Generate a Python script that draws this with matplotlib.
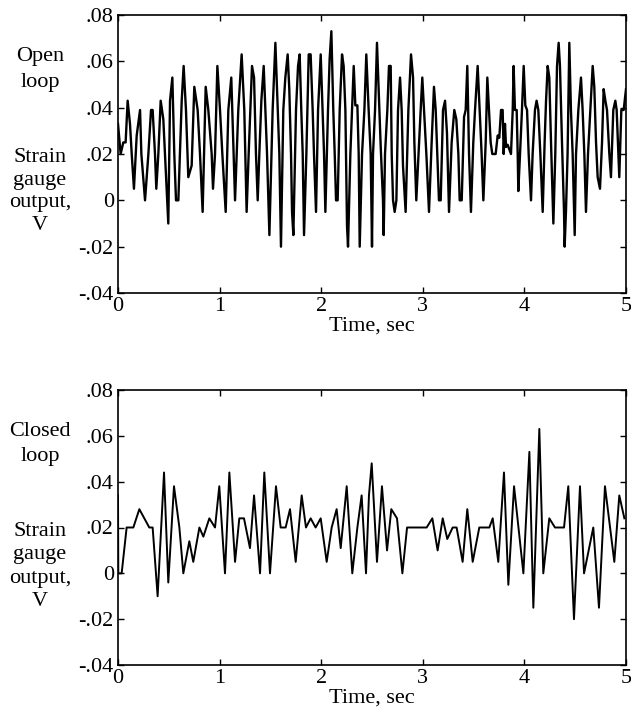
import numpy as np
import matplotlib
matplotlib.use("Agg")
import matplotlib.pyplot as plt
from matplotlib.ticker import FixedLocator, FixedFormatter

plt.rcParams['font.family'] = ['Liberation Serif', 'DejaVu Serif']

# open loop strain gauge output (sec, V)
t_open = [0.0, 0.026, 0.052, 0.075, 0.095, 0.118, 0.135, 0.157, 0.184, 0.217,
          0.230, 0.266, 0.299, 0.325, 0.341, 0.364, 0.377, 0.397, 0.420, 0.446,
          0.479, 0.495, 0.512, 0.535, 0.554, 0.571, 0.594, 0.627, 0.646, 0.669,
          0.692, 0.725, 0.751, 0.784, 0.807, 0.833, 0.863, 0.889, 0.922, 0.935,
          0.955, 0.978, 1.004, 1.027, 1.060, 1.086, 1.115, 1.152, 1.184, 1.217,
          1.243, 1.266,
          1.286, 1.319, 1.339, 1.358, 1.375, 1.391, 1.411, 1.434, 1.450, 1.467,
          1.490, 1.522, 1.549, 1.568, 1.588, 1.604, 1.627, 1.647, 1.670, 1.686,
          1.703, 1.713, 1.726, 1.752, 1.772, 1.788, 1.804, 1.818, 1.831, 1.854,
          1.877, 1.896, 1.916, 1.929, 1.949, 1.969, 1.995, 2.014, 2.028, 2.041,
          2.067, 2.083, 2.100, 2.119, 2.133, 2.146, 2.162, 2.182, 2.205, 2.221,
          2.238, 2.254, 2.264, 2.287, 2.303, 2.320, 2.336, 2.356, 2.369, 2.379,
          2.402, 2.425, 2.444, 2.467, 2.487, 2.500,
          2.510, 2.530, 2.549, 2.569, 2.585, 2.608, 2.615, 2.628, 2.651, 2.667,
          2.684, 2.694, 2.707, 2.723, 2.740, 2.756, 2.776, 2.792, 2.805, 2.831,
          2.858, 2.884, 2.904, 2.917, 2.936, 2.963, 2.979, 2.995, 3.012, 3.035,
          3.061, 3.087, 3.110, 3.127, 3.143, 3.159, 3.176, 3.199, 3.219, 3.238,
          3.258, 3.284, 3.310, 3.330, 3.350, 3.363, 3.383, 3.406, 3.422, 3.438,
          3.455, 3.474, 3.497, 3.514, 3.540, 3.560, 3.579, 3.596, 3.619, 3.635,
          3.652, 3.668, 3.684, 3.717,
          3.737, 3.753, 3.770, 3.786, 3.796, 3.809, 3.819, 3.835, 3.868, 3.885,
          3.894, 3.907, 3.924, 3.934, 3.940, 3.957, 3.976, 3.993, 4.009, 4.026,
          4.042, 4.065, 4.081, 4.104, 4.120, 4.137, 4.157, 4.180, 4.199, 4.213,
          4.229, 4.245, 4.262, 4.285, 4.304, 4.321, 4.337, 4.350, 4.370, 4.390,
          4.396, 4.409, 4.425, 4.442, 4.458, 4.475, 4.495, 4.508, 4.531, 4.557,
          4.573, 4.590, 4.606, 4.626, 4.649, 4.672, 4.688, 4.705, 4.721, 4.744,
          4.764, 4.780, 4.797, 4.813, 4.836, 4.852, 4.875, 4.895, 4.908, 4.925,
          4.934, 4.954, 4.977, 5.0]
v_open = [.033, .02, .025, .025, .043, .033, .02, .005, .028, .039,
          .02, 0, .02, .039, .039, .02, .005, .02, .043, .035,
          .005, -.01, .043, .053, .02, 0, 0, .043, .058, .039,
          .01, .015, .049, .039, .02, -.005, .049, .039, .02, .005,
          .02, .058, .039, .02, -.005, .039, .053, 0, .039, .063,
          .039, -.005,
          .02, .058, .053, .02, 0, .02, .043, .058, .039, .02,
          -.015, .039, .068, .044, .02, -.02, .039, .053, .063, .048,
          .02, -.005, -.015, .039, .058, .063, .039, .02, -.015, .02,
          .063, .063, .039, .02, -.005, .039, .063, .039, .02, -.005,
          .039, .061, .073, .039, .02, 0, 0, .039, .063, .058,
          .039, -.011, -.02, .02, .039, .058, .041, .041, .02, -.02,
          .02, .039, .063, .039, .02, -.02,
          .02, .039, .068, .043, .024, 0, -.015, .02, .039, .058,
          .058, .02, 0, -.005, 0, .039, .053, .039, .015, -.005,
          .039, .063, .053, .025, 0, .025, .039, .053, .039, .02,
          -.005, .025, .049, .039, .02, 0, 0, .039, .043, .029,
          -.005, .025, .039, .035, .02, 0, 0, .036, .039, .058,
          .02, -.005, .025, .039, .058, .039, .02, 0, .025, .053,
          .039, .025, .02, .02,
          .028, .027, .039, .039, .02, .033, .023, .024, .02, .039,
          .058, .039, .039, .02, .004, .02, .039, .058, .041, .039,
          .02, 0, .02, .039, .043, .039, .02, -.005, .025, .043,
          .058, .053, .025, -.01, .02, .058, .068, .058, .025, -.005,
          -.02, -.005, .02, .068, .039, .02, -.015, .02, .039, .053,
          .039, .02, -.005, .02, .039, .058, .049, .025, .01, .005,
          .025, .048, .043, .039, .02, .01, .039, .043, .039, .02,
          .01, .039, .039, .048]

# closed loop strain gauge output (sec, V)
t_closed = [0.0, 0.003, 0.036, 0.085, 0.151, 0.210, 0.308, 0.341, 0.390, 0.453,
            0.495, 0.551, 0.604, 0.643, 0.702, 0.741, 0.801, 0.840, 0.899, 0.955,
            0.997, 1.053, 1.096, 1.152, 1.194, 1.240, 1.299, 1.339, 1.398, 1.440,
            1.496, 1.555, 1.601, 1.650, 1.693, 1.749, 1.808, 1.850, 1.896, 1.945,
            1.995, 2.054, 2.103, 2.152, 2.192, 2.251, 2.306, 2.356, 2.398, 2.441,
            2.470, 2.497, 2.549, 2.598, 2.648, 2.690, 2.746, 2.799, 2.845, 3.038,
            3.094, 3.146, 3.196, 3.241, 3.294, 3.333, 3.392, 3.438, 3.491, 3.556,
            3.655, 3.688, 3.743, 3.799, 3.842, 3.898, 3.990, 4.049, 4.088, 4.147,
            4.186, 4.245, 4.301, 4.390, 4.432, 4.488, 4.547, 4.587, 4.678, 4.734,
            4.793, 4.885, 4.934, 4.984]
v_closed = [.034, 0, 0, .02, .02, .028, .02, .02, -.01, .044,
            -.004, .038, .02, 0, .014, .005, .02, .016, .024, .02,
            .038, 0, .044, .005, .024, .024, .011, .034, 0, .044,
            0, .038, .02, .02, .028, .005, .034, .02, .024, .02,
            .024, .005, .02, .028, .011, .038, 0, .02, .034, 0,
            .034, .048, .005, .038, .01, .028, .024, 0, .02, .02,
            .024, .01, .024, .015, .02, .02, .005, .028, .005, .02,
            .02, .024, .005, .044, -.005, .038, 0, .053, -.015, .063,
            0, .024, .02, .02, .038, -.02, .038, 0, .02, -.015,
            .038, .005, .034, .024]

yticks = [-.04, -.02, 0, .02, .04, .06, .08]
ytick_labels = ['-.04', '-.02', '0', '.02', '.04', '.06', '.08']
xticks = [0, 1, 2, 3, 4, 5]

W, H = 631, 719
fig = plt.figure(figsize=(W / 100, H / 100), dpi=100)

FS = 16
panels = [
    (t_open, v_open, 15, 293, ['Open', 'loop'], 1.7),
    (t_closed, v_closed, 390, 665, ['Closed', 'loop'], 1.4),
]
for t, v, ytop, ybot, head, lw in panels:
    ax = fig.add_axes([118 / W, 1 - ybot / H, (626 - 118) / W, (ybot - ytop) / H])
    ax.plot(t, v, color='black', lw=lw)
    ax.set_xlim(0, 5)
    ax.set_ylim(-.04, .08)
    ax.yaxis.set_major_locator(FixedLocator(yticks))
    ax.yaxis.set_major_formatter(FixedFormatter(ytick_labels))
    ax.set_xticks(xticks)
    ax.set_xticklabels([str(x) for x in xticks])
    ax.tick_params(direction='in', top=True, right=True, length=4, width=1,
                   labelsize=FS, pad=3)
    for sp in ax.spines.values():
        sp.set_linewidth(1.2)
    ax.set_xlabel('Time, sec', fontsize=FS, labelpad=0)

    lines = head + ['Strain', 'gauge', 'output,', 'V']
    ys = [ytop + 42, ytop + 67, ytop + 142, ytop + 165, ytop + 188, ytop + 211]
    for s, yy in zip(lines, ys):
        fig.text(40 / W, 1 - yy / H, s, ha='center', va='center', fontsize=FS)

fig.savefig('out.png', dpi=100)
